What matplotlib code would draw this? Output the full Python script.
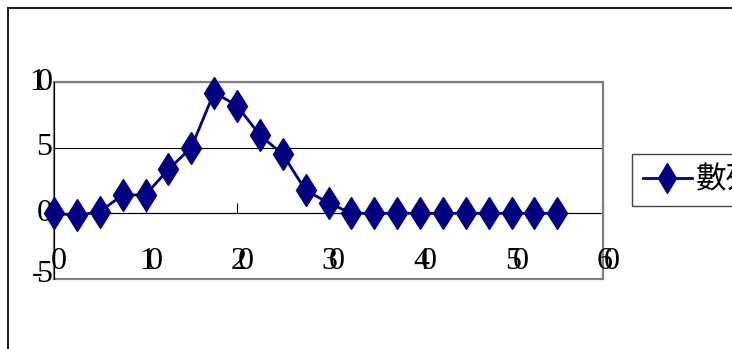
import matplotlib.pyplot as plt
import matplotlib.transforms as mtransforms
from matplotlib.patches import Rectangle

# Datos
x = [0, 2.5, 5, 7.5, 10, 12.5, 15, 17.5, 20, 22.5, 25, 27.5, 30, 32.5,
     35, 37.5, 40, 42.5, 45, 47.5, 50, 52.5, 55]
y = [0, -0.15, 0.12, 1.4, 1.4, 3.35, 5.0, 9.2, 8.2, 5.95, 4.5, 1.75, 0.8, 0,
     0, 0, 0, 0, 0, 0, 0, 0, 0]
serie = "數列1"
xticks = [0, 10, 20, 30, 40, 50, 60]
yticks = [-5, 0, 5, 10]

navy = "#000080"
gris = "#808080"

fig = plt.figure(figsize=(7.32, 3.49), dpi=100)
W, H = 732, 349

# Borde exterior del gráfico
fig.patches.append(Rectangle((8 / W, -0.2), 1.2, 1 - 8 / H + 0.2,
                             transform=fig.transFigure, fill=False,
                             edgecolor="#222222", lw=1.5))

ax = fig.add_axes([54 / W, 1 - 279 / H, 549 / W, 197 / H])
ax.set_xlim(0, 60)
ax.set_ylim(-5, 10)

linea, = ax.plot(x, y, color=navy, lw=2, marker="d", ms=16.5,
                 mfc=navy, mec=navy, clip_on=False, zorder=5, label=serie)

# Líneas de división y ejes
ax.set_yticks(yticks)
ax.set_xticks(xticks)
ax.yaxis.grid(True, color="black", lw=0.8)
ax.tick_params(axis="y", length=0, labelleft=False)
ax.tick_params(axis="x", direction="in", length=7, width=0.8,
               color="black", labelbottom=False)
ax.spines["bottom"].set_position(("data", 0))
ax.spines["bottom"].set_color("black")
ax.spines["bottom"].set_linewidth(0.8)
ax.spines["top"].set_visible(False)
ax.spines["right"].set_visible(False)
ax.spines["left"].set_color("black")
ax.spines["left"].set_linewidth(0.8)
ax.spines["left"].set_zorder(4)
ax.add_patch(Rectangle((0, 0), 1, 1, transform=ax.transAxes, fill=False,
                       edgecolor=gris, lw=1.6, clip_on=False, zorder=3))

# Etiquetas con los dígitos encimados, como en el original
fuente = dict(family="Liberation Serif", size=23)
paso = 7.5 / 100


def etiqueta(xv, yv, texto, dx0, dy=0, ha_right=False):
    n = len(texto)
    for i, c in enumerate(texto):
        if ha_right:
            dx = dx0 - (n - 1 - i) * paso
        else:
            dx = dx0 + (i - (n - 1) / 2) * paso
        tr = ax.transData + mtransforms.ScaledTranslation(dx, dy, fig.dpi_scale_trans)
        ax.text(xv, yv, c, transform=tr, ha="center", va="center",
                clip_on=False, **fuente)


for t in xticks:
    etiqueta(t, -3.66, str(t), 5 / 100)
for t in yticks:
    etiqueta(0, t, str(t), -9.5 / 100, dy=(5 / 100 if t < 0 else 0), ha_right=True)

ax.legend(handles=[linea], loc="upper left",
          bbox_to_anchor=(632 / W, 1 - 154 / H), bbox_transform=fig.transFigure,
          prop=dict(family=["Noto Sans CJK TC", "DejaVu Sans"], size=22),
          frameon=True, fancybox=False, edgecolor="#444444", framealpha=1,
          handlelength=1.6, handletextpad=0.15, borderpad=0.35,
          borderaxespad=0, markerscale=0.95)

fig.savefig("out.png", dpi=100)
